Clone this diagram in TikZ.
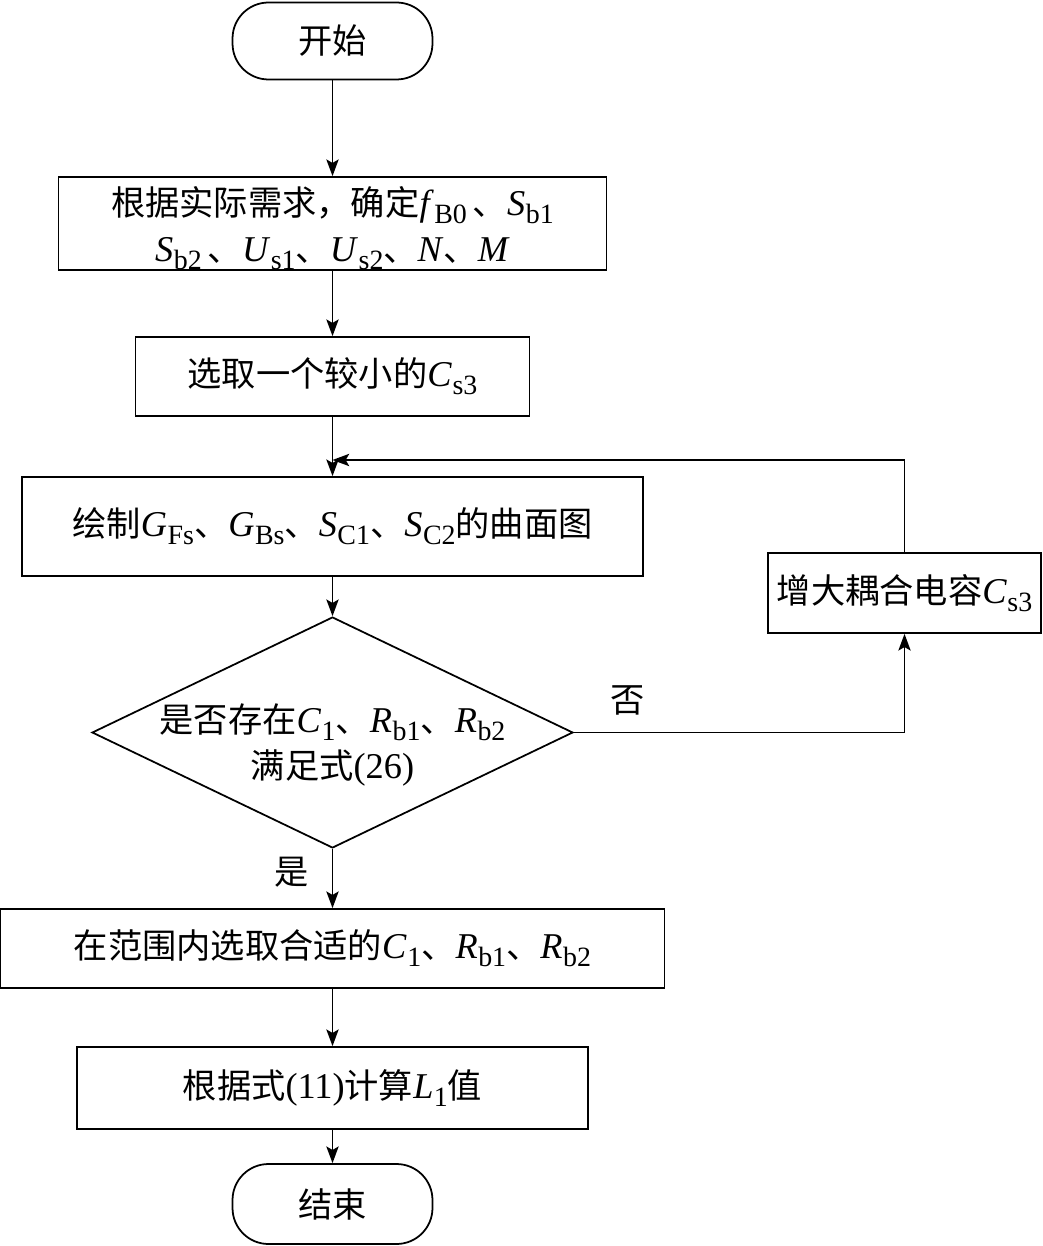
\documentclass[tikz,border=0pt]{standalone}
\usepackage{fontspec}
\setmainfont{Liberation Serif}[Scale=1.06]
\newfontfamily\cjk{Noto Sans CJK SC}
\usetikzlibrary{arrows.meta,shapes.geometric}
\newcommand\zh[1]{{\cjk #1}}
\newcommand\iv[2]{\textit{#1}\kern0.3pt\raisebox{-0.22em}{\fontsize{15}{15}\selectfont #2}}
\begin{document}
\begin{tikzpicture}[x=0.02cm,y=-0.02cm,
  every node/.style={font=\fontsize{19.5}{26}\selectfont},
  proc/.style={draw,line width=1pt,inner sep=0pt,align=center},
  term/.style={draw,line width=1pt,rounded corners=0.72cm,inner sep=0pt},
  dia/.style={diamond,draw,line width=1pt,inner sep=0pt},
  flow/.style={line width=1pt,-{Stealth[length=9.5pt,width=7pt,inset=2pt]}},
  lbl/.style={inner sep=0pt}]
\useasboundingbox (0,0) rectangle (1042,1246);

\node[term,minimum width=4cm,minimum height=1.54cm] (start) at (332.5,41) {\zh{开始}};
\node[proc,minimum width=10.96cm,minimum height=1.86cm] (b1) at (332.5,223.5) {};
\node[align=center,lbl] (b1t) at (332.5,228)
  {\zh{根据实际需求，确定}\iv{f}{B0}\,\zh{、}\iv{S}{b1}\\
   \iv{S}{b2}\,\zh{、}\iv{U}{s1}\zh{、}\iv{U}{s2}\zh{、}\textit{N}\zh{、}\textit{M}};
\node[proc,minimum width=7.88cm,minimum height=1.58cm] (b2) at (332.5,376.5)
  {\zh{选取一个较小的}\iv{C}{s3}};
\node[proc,minimum width=12.42cm,minimum height=1.98cm] (b3) at (332.5,526.5)
  {\zh{绘制}\iv{G}{Fs}\zh{、}\iv{G}{Bs}\zh{、}\iv{S}{C1}\zh{、}\iv{S}{C2}\zh{的曲面图}};
\node[dia,minimum width=9.62cm,minimum height=4.62cm] (dec) at (332.5,732.5) {};
\node[align=center,lbl] (dect) at (332.5,745)
  {\zh{是否存在}\iv{C}{1}\zh{、}\iv{R}{b1}\zh{、}\iv{R}{b2}\\\zh{满足式}(26)};
\node[proc,minimum width=5.46cm,minimum height=1.6cm] (b4) at (904.5,593)
  {\zh{增大耦合电容}\iv{C}{s3}};
\node[proc,minimum width=13.28cm,minimum height=1.58cm] (b5) at (332.5,948.5)
  {\zh{在范围内选取合适的}\iv{C}{1}\zh{、}\iv{R}{b1}\zh{、}\iv{R}{b2}};
\node[proc,minimum width=10.22cm,minimum height=1.64cm] (b6) at (332.5,1088)
  {\zh{根据式}(11)\zh{计算}\iv{L}{1}\zh{值}};
\node[term,minimum width=4cm,minimum height=1.6cm] (end) at (332.5,1204) {\zh{结束}};

\node[lbl] (no) at (628,700) {\zh{否}};
\node[lbl] (yes) at (292,872) {\zh{是}};

\coordinate (j) at (332.5,460);

\draw[flow] (start) -- (b1);
\draw[flow] (b1) -- (b2);
\draw[flow] (b2) -- (b3);
\draw[flow] (b3) -- (dec);
\draw[flow] (dec.east) -| (b4.south);
\draw[flow] (b4.north) |- (j);
\draw[flow] (dec) -- (b5);
\draw[flow] (b5) -- (b6);
\draw[flow] (b6) -- (end);
\end{tikzpicture}
\end{document}
